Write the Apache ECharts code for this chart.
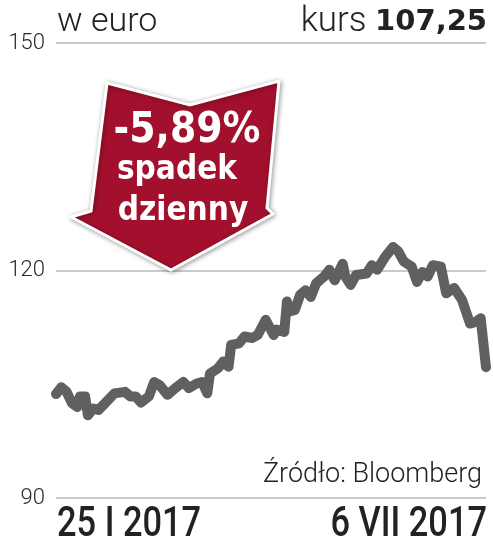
<!DOCTYPE html>
<html>
<head>
<meta charset="utf-8">
<script src="https://cdn.jsdelivr.net/npm/echarts@6/dist/echarts.min.js"></script>
<style>
  html, body { margin: 0; padding: 0; background: #fff; }
  #chart { width: 493px; height: 549px; }
</style>
</head>
<body>
<div id="chart"></div>
<script>
// kurs w euro, 25 I 2017 - 6 VII 2017
const dates = [
  '2017-01-25', '2017-01-27', '2017-01-29', '2017-01-31', '2017-02-02', '2017-02-03',
  '2017-02-05', '2017-02-06', '2017-02-08', '2017-02-10', '2017-02-13', '2017-02-16',
  '2017-02-20', '2017-02-22', '2017-02-24', '2017-02-26', '2017-03-01', '2017-03-03',
  '2017-03-05', '2017-03-08', '2017-03-11', '2017-03-14', '2017-03-16', '2017-03-19',
  '2017-03-21', '2017-03-23', '2017-03-24', '2017-03-27', '2017-03-29', '2017-03-31',
  '2017-04-01', '2017-04-04', '2017-04-06', '2017-04-09', '2017-04-11', '2017-04-14',
  '2017-04-17', '2017-04-18', '2017-04-21', '2017-04-22', '2017-04-23', '2017-04-25',
  '2017-04-27', '2017-04-29', '2017-05-01', '2017-05-03', '2017-05-06', '2017-05-08',
  '2017-05-10', '2017-05-13', '2017-05-14', '2017-05-16', '2017-05-18', '2017-05-22',
  '2017-05-24', '2017-05-26', '2017-05-29', '2017-06-01', '2017-06-03', '2017-06-05',
  '2017-06-08', '2017-06-10', '2017-06-12', '2017-06-14', '2017-06-16', '2017-06-19',
  '2017-06-21', '2017-06-24', '2017-06-27', '2017-06-30', '2017-07-02', '2017-07-04',
  '2017-07-06'
];
const prices = [
  103.7, 104.6, 104.0, 102.5, 102.0, 103.4,
  103.4, 100.9, 101.8, 101.6, 102.7, 103.8,
  104.0, 103.4, 103.4, 102.6, 103.4, 105.3,
  104.9, 103.6, 104.5, 105.3, 104.5, 105.1,
  105.3, 103.8, 106.4, 107.1, 108.0, 107.3,
  110.2, 110.4, 111.3, 111.1, 111.5, 113.5,
  111.5, 112.2, 111.9, 115.9, 114.6, 114.8,
  116.8, 117.4, 116.5, 118.3, 119.2, 120.1,
  118.7, 120.9, 119.2, 118.1, 119.4, 119.6,
  120.7, 120.1, 121.8, 123.1, 122.5, 121.2,
  120.5, 118.5, 119.8, 119.2, 120.7, 120.5,
  117.0, 117.7, 116.1, 113.0, 113.2, 113.7,
  107.25
];
const yTicks = [90, 120, 150];
const startLabel = '25 I 2017';
const endLabel = '6 VII 2017';
const changeText = '-5,89%';

const chart = echarts.init(document.getElementById('chart'));

const option = {
  animation: false,
  backgroundColor: '#fff',
  grid: { left: 56, right: 7, top: 43, bottom: 51 },
  xAxis: {
    type: 'time',
    min: dates[0],
    max: dates[dates.length - 1],
    axisLine: { show: false },
    axisTick: { show: false },
    axisLabel: { show: false },
    splitLine: { show: false }
  },
  yAxis: {
    type: 'value',
    min: yTicks[0],
    max: yTicks[yTicks.length - 1],
    interval: 30,
    axisLine: { show: false },
    axisTick: { show: false },
    axisLabel: {
      margin: 11,
      color: '#2a2a2a',
      fontFamily: 'Roboto',
      fontWeight: 300,
      fontSize: 22
    },
    splitLine: { lineStyle: { color: '#b8b8b8', width: 1.5 } }
  },
  series: [{
    type: 'line',
    data: dates.map((d, i) => [d, prices[i]]),
    showSymbol: false,
    smooth: false,
    lineStyle: { color: '#606062', width: 10, cap: 'round', join: 'round' },
    z: 3
  }],
  graphic: [
    {
      type: 'text', x: 57, y: 22,
      style: { text: 'w euro', fill: '#222', font: '300 34px Roboto', verticalAlign: 'middle' }
    },
    {
      type: 'text', x: 487, y: 22,
      style: {
        text: '{a|kurs }{b|107,25}',
        align: 'right', verticalAlign: 'middle',
        rich: {
          a: { fill: '#222', font: '300 35px Roboto' },
          b: { fill: '#222', font: 'bold 29px "DejaVu Sans"' }
        }
      }
    },
    {
      type: 'polygon', z: 10,
      shape: {
        points: [[107, 83], [190, 105], [279, 81], [267, 208], [273, 214], [171, 270], [71, 217], [91, 211]]
      },
      style: {
        fill: '#a3102d', stroke: '#fff', lineWidth: 3,
        shadowBlur: 5, shadowColor: 'rgba(0,0,0,0.35)', shadowOffsetX: 1, shadowOffsetY: 1
      }
    },
    {
      type: 'text', x: 187, y: 131, z: 11, scaleX: 0.9,
      style: { text: changeText, fill: '#fff', font: 'bold 42px "DejaVu Sans"', align: 'center', verticalAlign: 'middle' }
    },
    {
      type: 'text', x: 177, y: 170, z: 11, scaleX: 0.9,
      style: { text: 'spadek', fill: '#fff', font: 'bold 33px "DejaVu Sans"', align: 'center', verticalAlign: 'middle' }
    },
    {
      type: 'text', x: 183, y: 211, z: 11, scaleX: 0.9,
      style: { text: 'dzienny', fill: '#fff', font: 'bold 33px "DejaVu Sans"', align: 'center', verticalAlign: 'middle' }
    },
    {
      type: 'text', x: 482, y: 475,
      style: { text: 'Źródło: Bloomberg', fill: '#222', font: '300 27px Roboto', align: 'right', verticalAlign: 'middle' }
    },
    {
      type: 'text', x: 57, y: 525, scaleX: 0.8,
      style: { text: startLabel, fill: '#222', font: '500 43px Roboto', align: 'left', verticalAlign: 'middle' }
    },
    {
      type: 'text', x: 487, y: 525, scaleX: 0.8,
      style: { text: endLabel, fill: '#222', font: '500 43px Roboto', align: 'right', verticalAlign: 'middle' }
    }
  ]
};

chart.setOption(option);
</script>
</body>
</html>
